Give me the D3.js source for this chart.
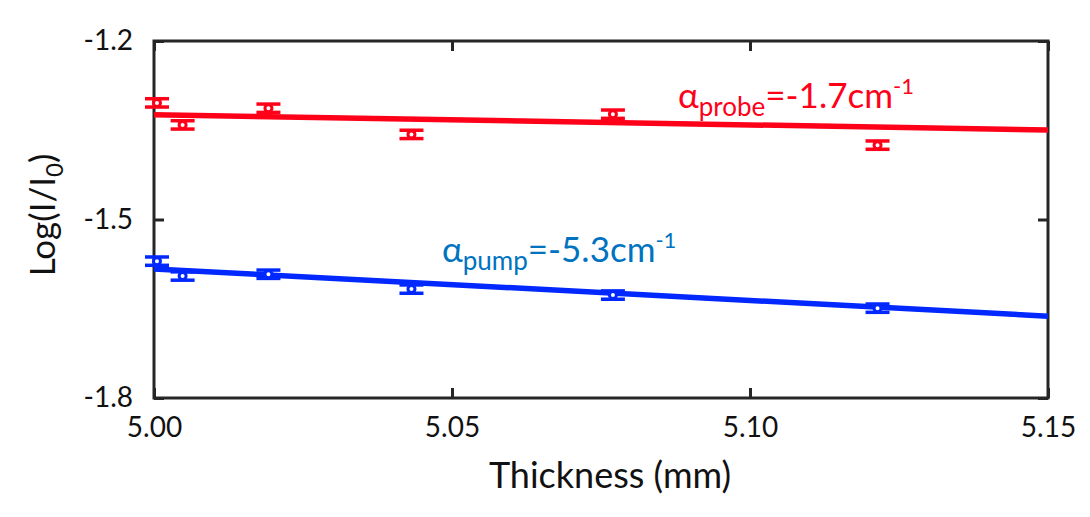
<!DOCTYPE html>
<html>
<head>
<meta charset="utf-8">
<script src="https://cdn.jsdelivr.net/npm/d3@7"></script>
<style>
  body { margin: 0; background: #fff; }
  text { font-family: Lato, "Open Sans", sans-serif; }
</style>
</head>
<body>
<script>
// measured thickness (mm) and log intensity ratio
let thickness = [5.0005, 5.0048, 5.0192, 5.0432, 5.0770, 5.1214];
let probe = [-1.304, -1.341, -1.313, -1.357, -1.323, -1.375];
let pump = [-1.570, -1.595, -1.592, -1.617, -1.627, -1.649];
let errSize = 0.007;

// linear fits, endpoints
let fitX = [5.00, 5.15];
let probeFit = [-1.324, -1.3495];
let pumpFit = [-1.583, -1.6625];

let xTicks = [5.00, 5.05, 5.10, 5.15];
let yTicks = [-1.8, -1.5, -1.2];

let W = 1090, H = 517;
let plotL = 154, plotR = 1048, plotT = 41, plotB = 398;

let red = "#ff0019", blue = "#0028ff", textBlue = "#0073c0";

let svg = d3.select("body").append("svg")
    .attr("width", W)
    .attr("height", H);

let x = d3.scaleLinear().domain([5.00, 5.15]).range([plotL, plotR]);
let y = d3.scaleLinear().domain([-1.8, -1.2]).range([plotB, plotT]);

// plain hyphen instead of unicode minus
let yFmt = function(d) { return d3.format(".1f")(d).replace("\u2212", "-"); };

// ticks pointing inward on all four sides
let axes = svg.append("g").attr("id", "axes");
axes.append("g")
    .attr("transform", "translate(0," + plotB + ")")
    .call(d3.axisBottom(x).tickValues(xTicks).tickSizeInner(-10).tickSizeOuter(0).tickFormat(d3.format(".2f")).tickPadding(19));
axes.append("g")
    .attr("transform", "translate(0," + plotT + ")")
    .call(d3.axisTop(x).tickValues(xTicks).tickSizeInner(-10).tickSizeOuter(0).tickFormat(""));
axes.append("g")
    .attr("transform", "translate(" + plotL + ",0)")
    .call(d3.axisLeft(y).tickValues(yTicks).tickSizeInner(-10).tickSizeOuter(0).tickFormat(yFmt).tickPadding(21));
axes.append("g")
    .attr("transform", "translate(" + plotR + ",0)")
    .call(d3.axisRight(y).tickValues(yTicks).tickSizeInner(-10).tickSizeOuter(0).tickFormat(""));

axes.selectAll(".domain").remove();
axes.selectAll(".tick line").attr("stroke", "#262626").attr("stroke-width", 3);
axes.selectAll(".tick text")
    .attr("font-size", 28)
    .attr("fill", "#111")
    .style("font-family", "Lato, sans-serif");

axes.append("rect")
    .attr("x", plotL).attr("y", plotT)
    .attr("width", plotR - plotL).attr("height", plotB - plotT)
    .attr("fill", "none")
    .attr("stroke", "#262626")
    .attr("stroke-width", 3);

// fit lines
function drawFit(vals, colour) {
  svg.append("line")
      .attr("x1", x(fitX[0])).attr("y1", y(vals[0]))
      .attr("x2", x(fitX[1])).attr("y2", y(vals[1]))
      .attr("stroke", colour)
      .attr("stroke-width", 5.5);
}
drawFit(probeFit, red);
drawFit(pumpFit, blue);

// data points with error bars
function drawPoints(vals, colour) {
  let g = svg.append("g");
  for (let i = 0; i < vals.length; i += 1) {
    let cx = x(thickness[i]);
    let y1 = y(vals[i] + errSize), y2 = y(vals[i] - errSize);
    g.append("line")
        .attr("x1", cx).attr("x2", cx)
        .attr("y1", y1 - 1).attr("y2", y2 + 1)
        .attr("stroke", colour).attr("stroke-width", 3);
    [y1, y2].forEach(function(cy) {
      g.append("line")
          .attr("x1", cx - 12).attr("x2", cx + 12)
          .attr("y1", cy).attr("y2", cy)
          .attr("stroke", colour).attr("stroke-width", 3.5);
    });
    g.append("circle")
        .attr("cx", cx).attr("cy", y(vals[i]))
        .attr("r", 3.5)
        .attr("fill", "#fff")
        .attr("stroke", colour)
        .attr("stroke-width", 3);
  }
}
drawPoints(probe, red);
drawPoints(pump, blue);

// annotations
function label(tx, ty, sub, value, colour) {
  let t = svg.append("text")
      .attr("x", tx).attr("y", ty)
      .attr("fill", colour)
      .attr("font-size", 35);
  t.append("tspan").text("\u03b1");
  t.append("tspan").attr("font-size", 26).attr("dy", 8).text(sub);
  t.append("tspan").attr("dy", -8).text("=" + value + "cm");
  t.append("tspan").attr("font-size", 22).attr("dy", -14).text("-1");
}
label(678, 108, "probe", "-1.7", red);
label(442, 262, "pump", "-5.3", textBlue);

// axis titles
svg.append("text")
    .attr("x", 610)
    .attr("y", 488)
    .attr("text-anchor", "middle")
    .attr("font-size", 36)
    .attr("fill", "#111")
    .text("Thickness (mm)");

let yl = svg.append("text")
    .attr("transform", "translate(55,215) rotate(-90)")
    .attr("text-anchor", "middle")
    .attr("font-size", 35)
    .attr("fill", "#111");
yl.append("tspan").text("Log(I/I");
yl.append("tspan").attr("font-size", 24).attr("dy", 8).text("0");
yl.append("tspan").attr("dy", -8).text(")");
</script>
</body>
</html>
